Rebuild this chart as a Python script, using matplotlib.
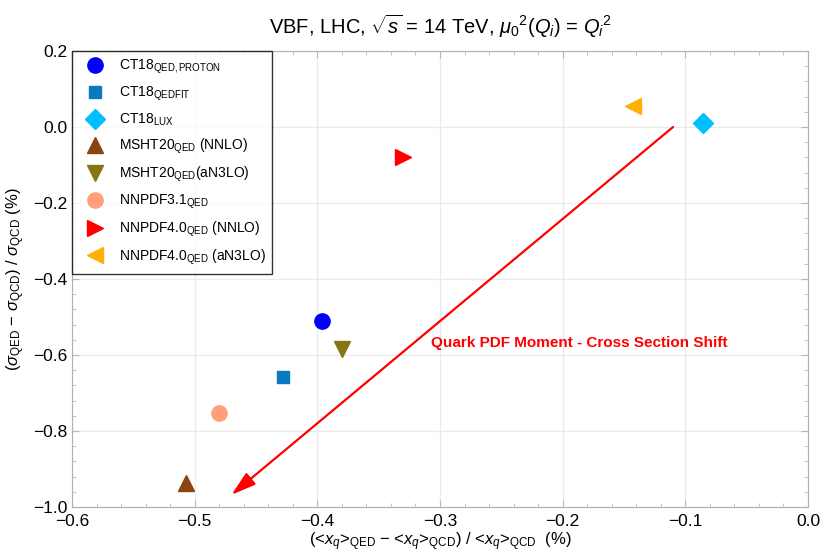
import matplotlib
matplotlib.use("Agg")
import matplotlib.pyplot as plt
from matplotlib.lines import Line2D
from matplotlib.ticker import MultipleLocator, AutoMinorLocator

plt.rcParams['font.family'] = ['Liberation Sans', 'DejaVu Sans']
plt.rcParams['mathtext.fontset'] = 'custom'
plt.rcParams['mathtext.rm'] = 'Liberation Sans'
plt.rcParams['mathtext.it'] = 'Liberation Sans:italic'
plt.rcParams['mathtext.bf'] = 'Liberation Sans:bold'
plt.rcParams['axes.unicode_minus'] = True

labels = [r'CT18$_{\mathrm{QED,PROTON}}$', r'CT18$_{\mathrm{QEDFIT}}$', r'CT18$_{\mathrm{LUX}}$',
          r'MSHT20$_{\mathrm{QED}}$ (NNLO)', r'MSHT20$_{\mathrm{QED}}$(aN3LO)', r'NNPDF3.1$_{\mathrm{QED}}$',
          r'NNPDF4.0$_{\mathrm{QED}}$ (NNLO)', r'NNPDF4.0$_{\mathrm{QED}}$ (aN3LO)']
x_shift = [-0.396, -0.428, -0.086, -0.507, -0.380, -0.480, -0.330, -0.143]
y_shift = [-0.510, -0.658, 0.010, -0.938, -0.585, -0.753, -0.079, 0.055]
markers = ['o', 's', 'D', '^', 'v', 'o', '>', '<']
colors = ['#0000FF', '#0A7ABF', '#00BFFF', '#8B4513', '#857514', '#FFA07A', '#FF0000', '#FFB000']
sizes = [11, 9, 10, 11, 11, 11, 12, 12]

arrow_start = (-0.110, 0.0)
arrow_end = (-0.470, -0.968)
arrow_text = 'Quark PDF Moment - Cross Section Shift'
arrow_text_pos = (-0.307, -0.568)

fig = plt.figure(figsize=(8.23, 5.54), dpi=100)
ax = fig.add_axes([72/823, 47/554, 736/823, 456/554])

ax.set_xlim(-0.6, 0.0)
ax.set_ylim(-1.0, 0.2)
ax.xaxis.set_major_locator(MultipleLocator(0.1))
ax.yaxis.set_major_locator(MultipleLocator(0.2))
ax.xaxis.set_minor_locator(AutoMinorLocator(5))
ax.yaxis.set_minor_locator(AutoMinorLocator(5))
ax.grid(True, which='major', color='#ebebeb', lw=1.0)
ax.set_axisbelow(True)
for s in ax.spines.values():
    s.set_color('#b0b0b0')
ax.tick_params(which='both', direction='in', top=True, right=True, color='#b8b8b8',
               labelsize=12.5, labelcolor='black')
ax.tick_params(which='major', length=5)
ax.tick_params(which='minor', length=3)
ax.tick_params(axis='x', pad=5)

for xv, yv, m, c, ms in zip(x_shift, y_shift, markers, colors, sizes):
    ax.plot([xv], [yv], marker=m, color=c, ms=ms, ls='none', zorder=4)

ax.annotate('', xy=arrow_end, xytext=arrow_start,
            arrowprops=dict(arrowstyle='-|>,head_length=1.5,head_width=0.45', color='#FF0000', lw=1.6,
                            shrinkA=0, shrinkB=0), zorder=3)
ax.text(arrow_text_pos[0], arrow_text_pos[1], arrow_text, color='#FF0000', fontsize=11,
        fontweight='bold', ha='left', va='center')

handles = [Line2D([], [], marker=m, color=c, ms=ms, ls='none') for m, c, ms in zip(markers, colors, sizes)]
leg = ax.legend(handles, labels, loc='upper left', bbox_to_anchor=(0, 1), borderaxespad=0,
                fontsize=10, frameon=True, fancybox=False, labelspacing=0.62,
                handletextpad=0.55, borderpad=0.5, handlelength=2.3)
leg.get_frame().set_edgecolor('black')
leg.get_frame().set_linewidth(1.0)
leg.set_zorder(5)

ax.set_title(r'VBF, LHC, $\sqrt{s}$ = 14 TeV, $\mu_0{}^2(Q_i)$ = $Q_i{}^2$', fontsize=14.5, pad=12)
ax.set_xlabel(r'(<$x_q$>$_{\mathrm{QED}}$ − <$x_q$>$_{\mathrm{QCD}}$) / <$x_q$>$_{\mathrm{QCD}}$  (%)',
              fontsize=12, labelpad=1)
ax.set_ylabel(r'($\sigma_{\mathrm{QED}}$ − $\sigma_{\mathrm{QCD}}$) / $\sigma_{\mathrm{QCD}}$ (%)', fontsize=12,
              labelpad=4)

fig.savefig('out.png', dpi=100)
